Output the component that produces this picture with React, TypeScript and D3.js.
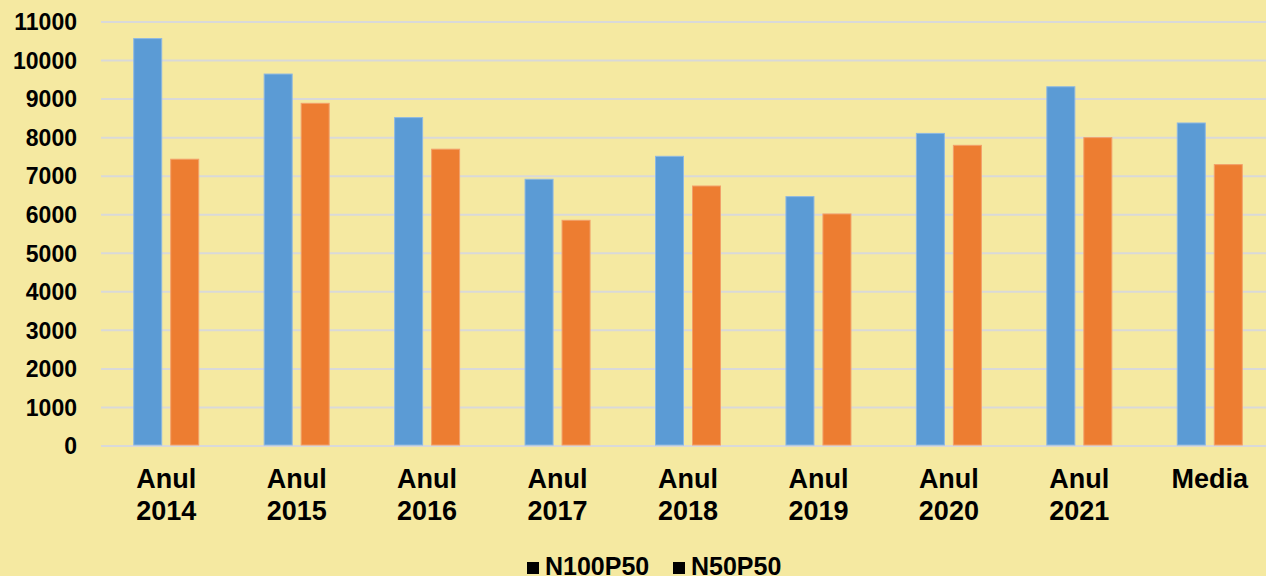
import * as d3 from 'd3';

const categories = ['Anul 2014', 'Anul 2015', 'Anul 2016', 'Anul 2017', 'Anul 2018', 'Anul 2019', 'Anul 2020', 'Anul 2021', 'Media'];
const seriesNames = ['N100P50', 'N50P50'];
const n100p50 = [10570, 9650, 8520, 6920, 7515, 6470, 8110, 9320, 8380];
const n50p50 = [7440, 8890, 7700, 5855, 6745, 6020, 7800, 8000, 7300];
const yTicks = [0, 1000, 2000, 3000, 4000, 5000, 6000, 7000, 8000, 9000, 10000, 11000];

const W = 1266;
const H = 576;
const BG = '#F5E9A1';
const COLORS = ['#5B9BD5', '#ED7D31'];
const STROKES = ['#8DB8E2', '#F2A06A'];
const FONT = '"Liberation Sans", Arial, sans-serif';

export default function App() {
  const margin = { left: 101, right: -9, top: 22, bottom: 130 };

  const x0 = d3.scaleBand<string>()
    .domain(categories)
    .range([margin.left, W - margin.right])
    .padding(0);

  const groupW = 66;
  const x1 = d3.scaleBand<string>()
    .domain(seriesNames)
    .range([0, groupW])
    .paddingInner(8 / 37)
    .paddingOuter(0);

  const y = d3.scaleLinear()
    .domain([0, 11000])
    .range([H - margin.bottom, margin.top]);

  const values = [n100p50, n50p50];

  return (
    <svg
      width={W}
      height={H}
      style={{ position: 'fixed', left: 0, top: 0, background: BG }}
      fontFamily={FONT}
      fontWeight="bold"
    >
      <rect x={0} y={0} width={W} height={H} fill={BG} />

      {/* gridlines + y labels */}
      {yTicks.map(t => (
        <g key={t}>
          <line
            x1={margin.left}
            x2={W}
            y1={y(t)}
            y2={y(t)}
            stroke="#D9D9D9"
            strokeWidth={2}
          />
          <text
            x={77}
            y={y(t)}
            dy="0.36em"
            textAnchor="end"
            fontSize={23}
            fill="#000"
          >
            {t}
          </text>
        </g>
      ))}

      {/* bars */}
      {categories.map((c, i) => {
        const gx = (x0(c) ?? 0) + (x0.bandwidth() - groupW) / 2;
        return (
          <g key={c} transform={`translate(${gx},0)`}>
            {seriesNames.map((s, si) => {
              const v = values[si][i];
              return (
                <rect
                  key={s}
                  x={(x1(s) ?? 0) + 0.5}
                  y={y(v)}
                  width={x1.bandwidth() - 1}
                  height={y(0) - y(v) - 1}
                  fill={COLORS[si]}
                  stroke={STROKES[si]}
                  strokeWidth={1}
                />
              );
            })}
          </g>
        );
      })}

      {/* x labels */}
      {categories.map(c => {
        const cx = (x0(c) ?? 0) + x0.bandwidth() / 2;
        const lines = c.split(' ');
        return (
          <text key={c} textAnchor="middle" fontSize={27} fill="#000">
            {lines.map((ln, li) => (
              <tspan key={li} x={cx} y={488 + li * 32}>{ln}</tspan>
            ))}
          </text>
        );
      })}

      {/* legend */}
      <g>
        {seriesNames.map((s, si) => {
          const lx = [527, 673][si];
          return (
            <g key={s}>
              <rect x={lx} y={562} width={12} height={12} fill="#000" />
              <text x={lx + 18} y={575} fontSize={25} fill="#000">{s}</text>
            </g>
          );
        })}
      </g>
    </svg>
  );
}
